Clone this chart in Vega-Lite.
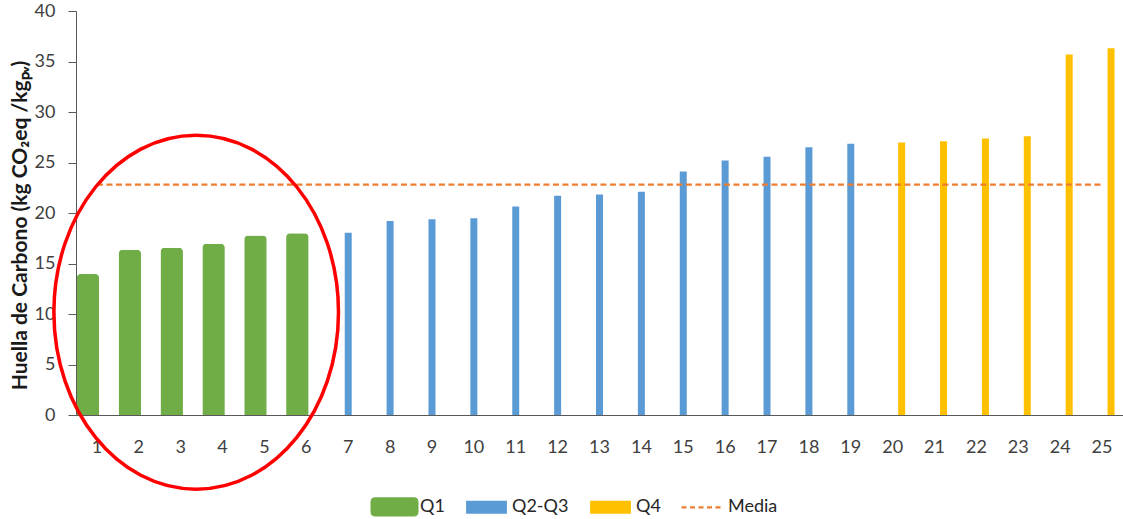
{
  "$schema": "https://vega.github.io/schema/vega-lite/v6.json",
  "width": 1047,
  "height": 404,
  "autosize": {"type": "none"},
  "padding": {"left": 76, "top": 11, "right": 0, "bottom": 104},
  "background": "white",
  "config": {"view": {"stroke": null}, "font": "Lato"},
  "datasets": {
    "huella": [
      {"id": 1, "valor": 13.96, "grupo": "Q1"},
      {"id": 2, "valor": 16.37, "grupo": "Q1"},
      {"id": 3, "valor": 16.57, "grupo": "Q1"},
      {"id": 4, "valor": 16.96, "grupo": "Q1"},
      {"id": 5, "valor": 17.76, "grupo": "Q1"},
      {"id": 6, "valor": 18.0, "grupo": "Q1"},
      {"id": 7, "valor": 18.05, "grupo": "Q2-Q3"},
      {"id": 8, "valor": 19.2, "grupo": "Q2-Q3"},
      {"id": 9, "valor": 19.37, "grupo": "Q2-Q3"},
      {"id": 10, "valor": 19.47, "grupo": "Q2-Q3"},
      {"id": 11, "valor": 20.65, "grupo": "Q2-Q3"},
      {"id": 12, "valor": 21.7, "grupo": "Q2-Q3"},
      {"id": 13, "valor": 21.84, "grupo": "Q2-Q3"},
      {"id": 14, "valor": 22.1, "grupo": "Q2-Q3"},
      {"id": 15, "valor": 24.1, "grupo": "Q2-Q3"},
      {"id": 16, "valor": 25.2, "grupo": "Q2-Q3"},
      {"id": 17, "valor": 25.56, "grupo": "Q2-Q3"},
      {"id": 18, "valor": 26.5, "grupo": "Q2-Q3"},
      {"id": 19, "valor": 26.85, "grupo": "Q2-Q3"},
      {"id": 20, "valor": 26.98, "grupo": "Q4"},
      {"id": 21, "valor": 27.1, "grupo": "Q4"},
      {"id": 22, "valor": 27.37, "grupo": "Q4"},
      {"id": 23, "valor": 27.6, "grupo": "Q4"},
      {"id": 24, "valor": 35.7, "grupo": "Q4"},
      {"id": 25, "valor": 36.3, "grupo": "Q4"}
    ],
    "media": [{"grupo": "Media", "valor": 22.8}],
    "anotacion": [{"id": 3, "valor": 10.18}]
  },
  "layer": [
    {
      "data": {"name": "huella"},
      "transform": [{"filter": "datum.grupo === 'Q1'"}],
      "mark": {"type": "bar", "width": 22.5, "xOffset": -9, "cornerRadiusTopLeft": 4, "cornerRadiusTopRight": 4},
      "encoding": {
        "x": {
          "field": "id", "type": "ordinal",
          "scale": {"domain": [1,2,3,4,5,6,7,8,9,10,11,12,13,14,15,16,17,18,19,20,21,22,23,24,25], "paddingInner": 0, "paddingOuter": 0},
          "axis": {"title": null, "labelAngle": 0, "ticks": false, "tickSize": 0, "labelPadding": 23, "labelFont": "Lato", "labelFontSize": 18, "labelColor": "#404040", "domainColor": "#595959", "domainWidth": 1.2, "grid": false}
        },
        "y": {
          "field": "valor", "type": "quantitative",
          "scale": {"domain": [0, 40], "nice": false},
          "axis": {"title": "Huella de Carbono (kg CO₂eq /kgₚᵥ)", "titleFont": "Lato", "titleFontWeight": "bold", "titleFontSize": 21, "titleColor": "#1a1a1a", "titlePadding": 4, "titleY": 214, "values": [0,5,10,15,20,25,30,35,40], "grid": false, "ticks": true, "tickSize": 8, "tickColor": "#595959", "domainColor": "#595959", "labelPadding": 13, "labelFont": "Lato", "labelFontSize": 18, "labelColor": "#404040"}
        },
        "color": {
          "field": "grupo", "type": "nominal",
          "scale": {"domain": ["Q1", "Q2-Q3", "Q4", "Media"], "range": ["#70AD47", "#5B9BD5", "#FFC000", "#ED7D31"]},
          "legend": {
            "title": null, "orient": "none", "legendX": 293, "legendY": 470, "direction": "horizontal", "columns": 4,
            "symbolSize": 2304, "symbolStrokeWidth": 2.25, "labelFont": "Lato", "labelFontSize": 18, "labelColor": "#262626", "labelOffset": 0,
            "columnPadding": 16, "padding": 0, "rowPadding": 0,
            "encode": {
              "symbols": {
                "update": {
                  "shape": {"signal": "datum.value === 'Q1' ? 'M-1,-0.2 Q-1,-0.4 -0.8,-0.4 L0.8,-0.4 Q1,-0.4 1,-0.2 L1,0.2 Q1,0.4 0.8,0.4 L-0.8,0.4 Q-1,0.4 -1,0.2 Z' : datum.value === 'Media' ? 'M-0.875,0 L0.875,0' : 'M-0.85,-0.27 L0.85,-0.27 L0.85,0.27 L-0.85,0.27 Z'"},
                  "fill": {"signal": "datum.value === 'Q1' ? '#70AD47' : datum.value === 'Q2-Q3' ? '#5B9BD5' : datum.value === 'Q4' ? '#FFC000' : 'transparent'"},
                  "stroke": {"signal": "datum.value === 'Media' ? '#ED7D31' : 'transparent'"},
                  "strokeOpacity": {"signal": "datum.value === 'Media' ? 1 : 0"},
                  "fillOpacity": {"value": 1},
                  "strokeWidth": {"value": 2.25},
                  "size": {"value": 2304},
                  "strokeDash": {"signal": "datum.value === 'Media' ? [5, 3.5] : [1, 0]"},
                  "opacity": {"value": 1}
                }
              }
            }
          }
        }
      }
    },
    {
      "data": {"name": "huella"},
      "transform": [{"filter": "datum.grupo === 'Q2-Q3'"}],
      "mark": {"type": "bar", "width": 7},
      "encoding": {
        "x": {"field": "id", "type": "ordinal"},
        "y": {"field": "valor", "type": "quantitative"},
        "color": {"field": "grupo", "type": "nominal"}
      }
    },
    {
      "data": {"name": "huella"},
      "transform": [{"filter": "datum.grupo === 'Q4'"}],
      "mark": {"type": "bar", "width": 7, "xOffset": 9},
      "encoding": {
        "x": {"field": "id", "type": "ordinal"},
        "y": {"field": "valor", "type": "quantitative"},
        "color": {"field": "grupo", "type": "nominal"}
      }
    },
    {
      "data": {"name": "media"},
      "mark": {"type": "rule", "strokeWidth": 2.25, "strokeDash": [6, 3.5]},
      "encoding": {
        "x": {"datum": 1, "type": "ordinal"},
        "x2": {"datum": 25},
        "y": {"field": "valor", "type": "quantitative"},
        "color": {"field": "grupo", "type": "nominal"}
      }
    },
    {
      "data": {"name": "anotacion"},
      "mark": {"type": "point", "shape": "M-0.804,0 A0.804,1 0 1,1 0.804,0 A0.804,1 0 1,1 -0.804,0 Z", "size": 125316, "filled": false, "stroke": "#FF0000", "strokeWidth": 3.5, "opacity": 1},
      "encoding": {
        "x": {"field": "id", "type": "ordinal", "bandPosition": 0.87},
        "y": {"field": "valor", "type": "quantitative"}
      }
    }
  ]
}
